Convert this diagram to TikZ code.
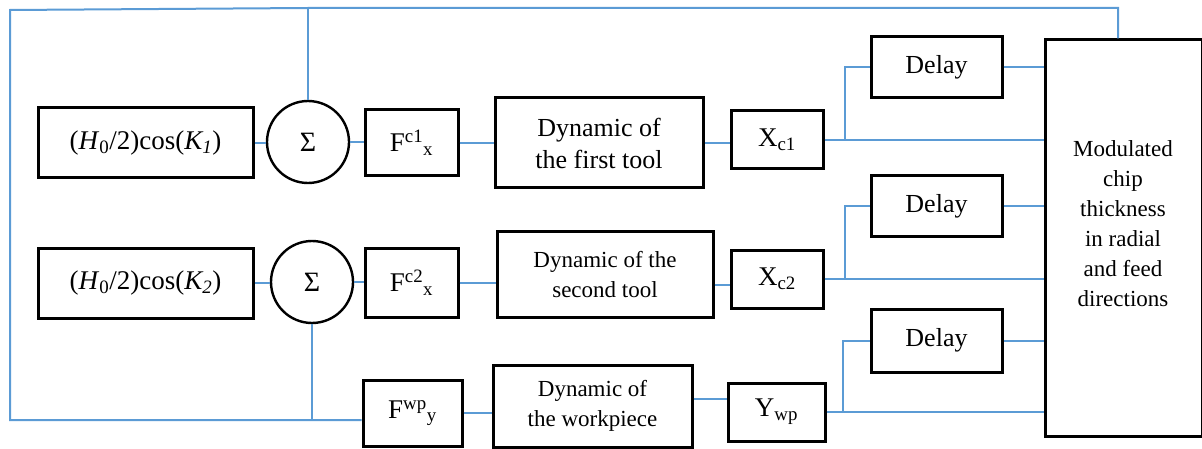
\documentclass[tikz,border=0pt]{standalone}
\usepackage{fontspec}
\setmainfont{Liberation Serif}
\definecolor{lineblue}{RGB}{91,155,213}
\tikzset{
  blk/.style={draw=black, line width=3pt, rectangle, inner sep=0pt, align=center},
  sumnode/.style={draw=black, line width=2.4pt, circle, inner sep=0pt, minimum size=82pt, font=\fontsize{28}{30}\selectfont},
  wire/.style={draw=lineblue, line width=2pt},
  txtA/.style={font=\fontsize{26}{32}\selectfont},
  txtB/.style={font=\fontsize{23}{30}\selectfont},
  txtS/.style={font=\fontsize{27}{30}\selectfont},
}
\begin{document}
\begin{tikzpicture}[x=1pt,y=-1pt]
\useasboundingbox (0,0) rectangle (1202,449);
% row 1
\node[blk, txtS, minimum width=215pt, minimum height=70pt] (h1) at (145.5,143) {(\textit{H}\textsubscript{0}/2)cos(\textit{K\textsubscript{1}})};
\node[sumnode] (s1) at (308,142) {Σ};
\node[blk, txtS, minimum width=93pt, minimum height=66pt] (f1) at (411.5,143) {F\textsuperscript{c1}\textsubscript{x}};
\node[blk, txtA, minimum width=208pt, minimum height=90pt] (d1) at (599,143) {Dynamic of\\the first tool};
\node[blk, txtS, minimum width=92pt, minimum height=58pt] (x1) at (777,140) {X\textsubscript{c1}};
\node[blk, txtA, minimum width=131pt, minimum height=61pt] (dl1) at (936.5,67.5) {Delay};
\node[blk, minimum width=157pt, minimum height=396pt] (big) at (1123.5,238) {};
\node[txtB, align=center] (bigtxt) at (1123,224) {Modulated\\chip\\thickness\\in radial\\and feed\\directions};
% row 2
\node[blk, txtS, minimum width=215pt, minimum height=70pt] (h2) at (145.5,283) {(\textit{H}\textsubscript{0}/2)cos(\textit{K\textsubscript{2}})};
\node[sumnode] (s2) at (312,282) {Σ};
\node[blk, txtS, minimum width=93pt, minimum height=69pt] (f2) at (411.5,282.5) {F\textsuperscript{c2}\textsubscript{x}};
\node[blk, txtB, minimum width=216pt, minimum height=85pt] (d2) at (605,274.5) {Dynamic of the\\second tool};
\node[blk, txtS, minimum width=92pt, minimum height=58pt] (x2) at (777,279) {X\textsubscript{c2}};
\node[blk, txtA, minimum width=131pt, minimum height=61pt] (dl2) at (936.5,206.5) {Delay};
% row 3
\node[blk, txtS, minimum width=99pt, minimum height=66pt] (fw) at (412.5,413) {F\textsuperscript{wp}\textsubscript{y}};
\node[blk, txtB, minimum width=199pt, minimum height=82pt] (d3) at (592.5,406) {Dynamic of\\the workpiece};
\node[blk, txtS, minimum width=97pt, minimum height=58pt] (yw) at (776.5,412) {Y\textsubscript{wp}};
\node[blk, txtA, minimum width=131pt, minimum height=63pt] (dl3) at (936.5,340.5) {Delay};
% branch points and feedback corners
\coordinate (b1) at (845,140);
\coordinate (b2) at (845,279);
\coordinate (b3) at (843,412);
\coordinate (fbtr) at (1118,8);
\coordinate (fbtl) at (10,10);
\coordinate (fbbl) at (10,420);
% wires row 1
\draw[wire] (h1.east) -- (h1.east -| s1.west);
\draw[wire] (s1.east) -- (s1.east -| f1.west);
\draw[wire] (f1.east) -- (f1.east -| d1.west);
\draw[wire] (d1.east) -- (d1.east -| x1.west);
\draw[wire] (x1.east) -- (x1.east -| big.west);
\draw[wire] (b1) |- (dl1.west);
\draw[wire] (dl1.east) -- (dl1.east -| big.west);
% wires row 2
\draw[wire] (h2.east) -- (h2.east -| s2.west);
\draw[wire] (s2.east) -- (s2.east -| f2.west);
\draw[wire] (f2.east) -- (f2.east -| d2.west);
\draw[wire] ([yshift=-10pt]d2.east) -- ([yshift=-10pt]d2.east -| x2.west);
\draw[wire] (x2.east) -- (x2.east -| big.west);
\draw[wire] (b2) |- (dl2.west);
\draw[wire] (dl2.east) -- (dl2.east -| big.west);
% wires row 3
\draw[wire] (fw.east) -- (fw.east -| d3.west);
\draw[wire] ([yshift=7pt]d3.east) -- ([yshift=7pt]d3.east -| yw.west);
\draw[wire] (yw.east) -- (yw.east -| big.west);
\draw[wire] (b3) |- (dl3.west);
\draw[wire] (dl3.east) -- (dl3.east -| big.west);
% feedback
\draw[wire] (big.north -| fbtr) -- (fbtr) -- (fbtr -| s1.north) -- (fbtl) -- (fbbl) -- (fbbl -| fw.west);
\draw[wire] (s1.north) -- (s1.north |- fbtr);
\draw[wire] (s2.south) -- (s2.south |- fbbl);
\end{tikzpicture}
\end{document}
